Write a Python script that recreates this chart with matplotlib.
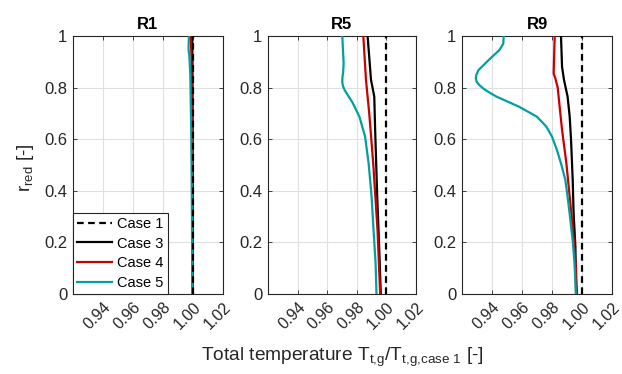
import matplotlib
matplotlib.use("Agg")
import matplotlib.pyplot as plt
import numpy as np
from matplotlib.transforms import ScaledTranslation

plt.rcParams['font.family'] = ['Liberation Sans', 'DejaVu Sans']

titles = ["R1", "R5", "R9"]
case_labels = ["Case 1", "Case 3", "Case 4", "Case 5"]

# ---- R1 ----
r1_case1_r = [0.0, 1.0]
r1_case1_t = [1.0, 1.0]
r1_case3_r = [0.0, 0.5, 0.9, 1.0]
r1_case3_t = [0.9998, 0.9998, 0.9996, 0.9994]
r1_case4_r = [0.0, 0.5, 0.92, 1.0]
r1_case4_t = [0.9998, 0.9994, 0.9990, 0.9984]
r1_case5_r = [0.0, 0.3, 0.6, 0.85, 0.92, 0.95, 1.0]
r1_case5_t = [0.9996, 0.9993, 0.9989, 0.9982, 0.9976, 0.9970, 0.9973]

# ---- R5 ----
r5_case1_r = [0.0, 1.0]
r5_case1_t = [1.0, 1.0]
r5_case3_r = [0.0, 0.183, 0.377, 0.636, 0.765, 0.83, 1.0]
r5_case3_t = [0.9962, 0.9951, 0.9938, 0.9924, 0.9918, 0.9896, 0.9873]
r5_case4_r = [0.0, 0.248, 0.506, 0.70, 0.83, 1.0]
r5_case4_t = [0.9958, 0.9940, 0.9911, 0.9884, 0.9862, 0.9844]
r5_case5_r = [0.0, 0.119, 0.248, 0.377, 0.506, 0.61, 0.687, 0.74, 0.79, 0.805, 0.82, 0.84, 0.86,
              0.894, 1.0]
r5_case5_t = [0.9933, 0.9927, 0.9913, 0.9900, 0.9880, 0.9856, 0.9818, 0.9773, 0.9718, 0.9707, 0.9702,
              0.9703, 0.9708, 0.9711, 0.9702]

# ---- R9 ----
r9_case1_r = [0.0, 1.0]
r9_case1_t = [1.0, 1.0]
r9_case3_r = [0.0, 0.183, 0.313, 0.442, 0.597, 0.687, 0.765, 0.83, 0.88, 1.0]
r9_case3_t = [0.9960, 0.9956, 0.9944, 0.9938, 0.9927, 0.9918, 0.9904, 0.9880, 0.9867, 0.9860]
r9_case4_r = [0.0, 0.119, 0.248, 0.377, 0.506, 0.636, 0.726, 0.80, 0.836, 0.855, 1.0]
r9_case4_t = [0.9967, 0.9958, 0.9940, 0.9918, 0.9896, 0.9867, 0.9851, 0.9838, 0.9822, 0.9811, 0.9818]
r9_case5_r = [0.0, 0.119, 0.196, 0.30, 0.377, 0.442, 0.506, 0.558, 0.61, 0.649, 0.687, 0.726,
              0.765, 0.78, 0.795, 0.81, 0.822, 0.836, 0.85, 0.868, 0.907, 0.946, 0.97, 1.0]
r9_case5_t = [0.9960, 0.9950, 0.9940, 0.9920, 0.9904, 0.9889, 0.9860, 0.9833, 0.9800, 0.9762, 0.9700,
              0.9580, 0.9430, 0.9385, 0.9345, 0.9315, 0.9298, 0.9292, 0.9296, 0.9310, 0.9378, 0.9450,
              0.9475, 0.9478]

panels = [
    [(r1_case1_t, r1_case1_r), (r1_case3_t, r1_case3_r), (r1_case4_t, r1_case4_r), (r1_case5_t, r1_case5_r)],
    [(r5_case1_t, r5_case1_r), (r5_case3_t, r5_case3_r), (r5_case4_t, r5_case4_r), (r5_case5_t, r5_case5_r)],
    [(r9_case1_t, r9_case1_r), (r9_case3_t, r9_case3_r), (r9_case4_t, r9_case4_r), (r9_case5_t, r9_case5_r)],
]

x_ticks = [0.94, 0.96, 0.98, 1.00, 1.02]
y_ticks = [0, 0.2, 0.4, 0.6, 0.8, 1.0]
y_ticklabels = ["0", "0.2", "0.4", "0.6", "0.8", "1"]

styles = [dict(color='black', ls=(0, (3, 2)), lw=1.6),
          dict(color='black', ls='-', lw=1.6),
          dict(color='#C80000', ls='-', lw=1.6),
          dict(color='#00A0A0', ls='-', lw=1.6)]

fig = plt.figure(figsize=(6.22, 3.74), dpi=100)
W, H = 622, 374
lefts = [73, 268, 462]
widths = [150, 148, 150]
top_px, bot_px = 36, 294
txtc = '#262626'

for i in range(3):
    ax = fig.add_axes([lefts[i] / W, (H - bot_px) / H, widths[i] / W, (bot_px - top_px) / H])
    handles = []
    for j, (t, r) in enumerate(panels[i]):
        h, = ax.plot(t, r, label=case_labels[j], **styles[j], zorder=3 + (j == 0) * 2)
        handles.append(h)
    ax.set_xlim(0.92, 1.02)
    ax.set_ylim(0, 1)
    ax.set_xticks(x_ticks)
    ax.set_xticklabels([f"{v:.2f}" for v in x_ticks], rotation=45, ha='right', va='top',
                       rotation_mode='anchor', fontsize=11.5, color=txtc)
    for lab in ax.get_xticklabels():
        lab.set_transform(lab.get_transform() + ScaledTranslation(8 / 72, -1.5 / 72, fig.dpi_scale_trans))
    ax.set_yticks(y_ticks)
    ax.set_yticklabels(y_ticklabels, fontsize=12, color=txtc)
    ax.tick_params(direction='in', length=3, top=True, right=True, width=0.6, colors=txtc,
                   labelcolor=txtc, pad=4)
    ax.grid(True, color='#E0E0E0', lw=0.8)
    ax.set_axisbelow(True)
    for s in ax.spines.values():
        s.set_color(txtc)
        s.set_linewidth(0.8)
    ax.set_title(titles[i], fontsize=12, fontweight='bold', color='black', pad=5)
    if i == 0:
        leg = ax.legend(handles=handles, loc='lower left', fontsize=10.5, frameon=True, fancybox=False,
                        edgecolor=txtc, borderpad=0.3, labelspacing=0.38, handlelength=2.4,
                        handletextpad=0.3, borderaxespad=0.0, framealpha=1)
        leg.get_frame().set_linewidth(0.8)

fig.text(25 / W, (H - 168) / H, r'r$_{\mathregular{red}}$ [-]', rotation=90, ha='center', va='center',
         fontsize=13.5, color=txtc)
fig.text(342 / W, (H - 357) / H,
         r'Total temperature T$_{\mathregular{t{,}g}}$/T$_{\mathregular{t{,}g{,}case\ 1}}$ [-]',
         ha='center', va='center', fontsize=13.8, color=txtc)

fig.savefig('out.png', dpi=100)
